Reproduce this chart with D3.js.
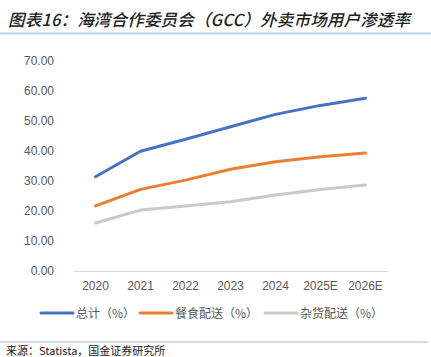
<!DOCTYPE html>
<html><head><meta charset="utf-8">
<script src="https://cdn.jsdelivr.net/npm/d3@7"></script>
<style>
body{margin:0;background:#fff;}
svg{display:block;font-family:"Noto Sans CJK SC","Noto Sans",sans-serif;}
</style></head>
<body>
<svg id="c" width="431" height="357"></svg>
<script>
const categories = ["2020","2021","2022","2023","2024","2025E","2026E"];
const totalVals = [31.4, 39.9, 43.9, 48.1, 52.2, 55.2, 57.6];
const foodVals = [21.7, 27.2, 30.3, 33.9, 36.4, 38.1, 39.3];
const groceryVals = [16.0, 20.3, 21.7, 23.1, 25.3, 27.2, 28.7];
const seriesNames = ["总计（%）","餐食配送（%）","杂货配送（%）"];
const yTicks = [0,10,20,30,40,50,60,70];
const colors = ["#4472C4","#ED7D31","#C9C9C9"];

const svg = d3.select("#c");
// title
svg.append("text").attr("x",8).attr("y",26)
  .attr("font-size",16.5).attr("font-style","italic").attr("font-weight",500).attr("fill","#222")
  .attr("textLength",402).attr("lengthAdjust","spacing")
  .text("图表16：海湾合作委员会（GCC）外卖市场用户渗透率");
svg.append("line").attr("x1",0).attr("x2",431).attr("y1",33.5).attr("y2",33.5)
  .attr("stroke","#BDD0E0").attr("stroke-width",2);

const x = d3.scaleBand().domain(categories).range([73,388]);
const y = d3.scaleLinear().domain([0,70]).range([271,61]);

// y axis labels
const ya = svg.append("g").attr("transform","translate(57,0)")
  .call(d3.axisLeft(y).tickValues(yTicks).tickSize(0).tickFormat(d=>d3.format(".2f")(d)));
ya.select(".domain").remove();
ya.selectAll("text").attr("font-size",12).attr("fill","#595959")
  .attr("font-family","Liberation Sans, Arial, sans-serif");

// x axis
const xa = svg.append("g").attr("transform","translate(0,271)")
  .call(d3.axisBottom(x).tickSize(0).tickPadding(10));
xa.select(".domain").attr("stroke","#D9D9D9");
xa.selectAll("text").attr("font-size",12).attr("fill","#595959")
  .attr("font-family","Liberation Sans, Arial, sans-serif");

const allSeries = [totalVals, foodVals, groceryVals];
const line = d3.line().x((d,i)=>x(categories[i])+x.bandwidth()/2).y(d=>y(d));
allSeries.forEach((vals,k)=>{
  svg.append("path").datum(vals).attr("d",line).attr("fill","none")
    .attr("stroke",colors[k]).attr("stroke-width",3).attr("stroke-linecap","round")
    .attr("stroke-linejoin","round");
});

// legend
const legendX = [41,140,265];
seriesNames.forEach((n,k)=>{
  const g = svg.append("g").attr("transform",`translate(${legendX[k]},313)`);
  g.append("line").attr("x1",0).attr("x2",32).attr("stroke",colors[k])
    .attr("stroke-width",3).attr("stroke-linecap","round");
  g.append("text").attr("x",35).attr("y",4.5).attr("font-size",12).attr("fill","#595959").text(n);
});

// bottom rule and source
svg.append("line").attr("x1",0).attr("x2",428).attr("y1",342).attr("y2",342)
  .attr("stroke","#BDD0E0").attr("stroke-width",1.5);
svg.append("text").attr("x",6).attr("y",355).attr("font-size",11).attr("fill","#222")
  .text("来源：Statista，国金证券研究所");
</script>
</body></html>
